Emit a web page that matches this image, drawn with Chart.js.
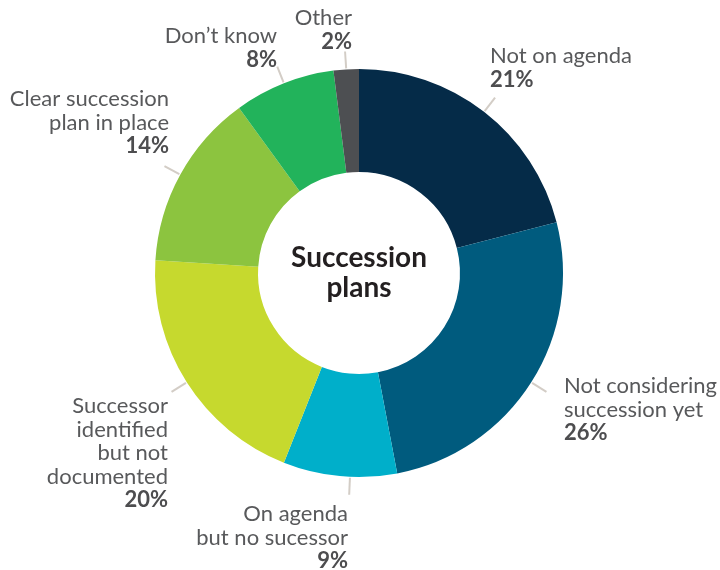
<!DOCTYPE html>
<html lang="en">
<head>
    <meta charset="UTF-8">
    <title>Succession plans</title>
    <script src="https://cdn.jsdelivr.net/npm/chart.js"></script>
    <style>
        body { margin: 0; background: #fff; }
        #wrap { width: 720px; height: 570px; }
    </style>
</head>
<body>
    <div id="wrap"><canvas id="planChart" width="720" height="570"></canvas></div>

    <script>
        // Chart data
        const categories = [
            ['Not on agenda'],
            ['Not considering', 'succession yet'],
            ['On agenda', 'but no sucessor'],
            ['Successor', 'identified', 'but not', 'documented'],
            ['Clear succession', 'plan in place'],
            ['Don\u2019t know'],
            ['Other']
        ];
        const shares = [21, 26, 9, 20, 14, 8, 2];
        const sliceColors = ['#052b48', '#005b7e', '#00afca', '#c6d92e', '#8cc43f', '#22b35b', '#4d4f52'];
        const centerTitle = ['Succession', 'plans'];

        // where each label block sits (first baseline)
        const labelSpots = [
            { x: 490, y: 63, align: 'left' },
            { x: 564, y: 393, align: 'left' },
            { x: 348, y: 521, align: 'right' },
            { x: 168, y: 413, align: 'right' },
            { x: 169, y: 106, align: 'right' },
            { x: 277, y: 43, align: 'right' },
            { x: 352, y: 25, align: 'right' }
        ];

        const FONT = 'Lato, "Source Sans Pro", sans-serif';

        const labelPlugin = {
            id: 'labelPlugin',
            afterDatasetsDraw(chart) {
                const ctx = chart.ctx;
                const arcs = chart.getDatasetMeta(0).data;
                ctx.save();
                arcs.forEach((arc, i) => {
                    const p = arc.getProps(['x', 'y', 'startAngle', 'endAngle', 'outerRadius'], true);
                    // on agenda leader sits a touch right of the slice middle
                    const mid = (p.startAngle + p.endAngle) / 2 - (i === 2 ? 0.05 : 0);
                    const r1 = p.outerRadius + 1, r2 = p.outerRadius + 18;
                    ctx.strokeStyle = '#d3cdc6';
                    ctx.lineWidth = 2;
                    ctx.beginPath();
                    ctx.moveTo(p.x + Math.cos(mid) * r1, p.y + Math.sin(mid) * r1);
                    ctx.lineTo(p.x + Math.cos(mid) * r2, p.y + Math.sin(mid) * r2);
                    ctx.stroke();

                    const spot = labelSpots[i];
                    const lines = categories[i];
                    ctx.textAlign = spot.align;
                    ctx.textBaseline = 'alphabetic';
                    ctx.fillStyle = '#58595b';
                    ctx.font = '22px ' + FONT;
                    lines.forEach((t, k) => ctx.fillText(t, spot.x, spot.y + k * 23.5));
                    ctx.fillStyle = '#4d4d4f';
                    ctx.font = 'bold 22px ' + FONT;
                    ctx.fillText(shares[i] + '%', spot.x, spot.y + lines.length * 23.5);
                });

                // center title
                const c = arcs[0];
                ctx.textAlign = 'center';
                ctx.fillStyle = '#231f20';
                ctx.font = 'bold 28px ' + FONT;
                ctx.fillText(centerTitle[0], c.x, c.y - 6);
                ctx.fillText(centerTitle[1], c.x, c.y + 24);
                ctx.restore();
            }
        };

        new Chart(document.getElementById('planChart').getContext('2d'), {
            type: 'doughnut',
            data: {
                labels: categories.map(l => l.join(' ')),
                datasets: [{
                    data: shares,
                    backgroundColor: sliceColors,
                    borderWidth: 0
                }]
            },
            options: {
                responsive: false,
                animation: false,
                cutout: '49.5%',
                layout: { padding: { top: 69, bottom: 93, left: 0, right: 2 } },
                plugins: {
                    legend: { display: false },
                    tooltip: { enabled: false }
                }
            },
            plugins: [labelPlugin]
        });
    </script>
</body>
</html>
